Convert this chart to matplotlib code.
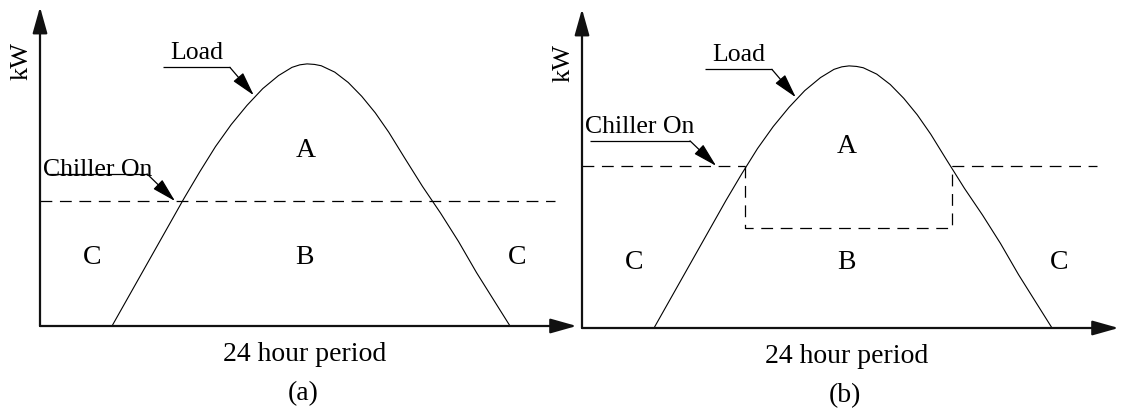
import matplotlib.pyplot as plt

plt.rcParams['font.family'] = ['Liberation Serif', 'DejaVu Serif']
plt.rcParams['lines.scale_dashes'] = False

# Load curve (hours, kW in arbitrary units, peak ~100)
load_hours = [3.2, 4.0, 4.8, 5.6, 6.4, 7.1, 7.8, 8.5, 9.2, 9.9, 10.6, 11.2, 11.55,
              11.87, 12.2, 12.5, 13.1, 13.7, 14.3, 14.9, 15.5, 16.2, 17.0, 17.8,
              18.6, 19.4, 20.2, 20.89]
load_kw = [0, 12, 24, 36, 48, 58, 67.5, 75.8, 83, 89.3, 94.2, 97.3, 98.25,
           98.6, 98.4, 97.9, 95.5, 91.6, 86.4, 80.2, 72.9, 63.3, 52.5, 42.5,
           31.8, 20.1, 9.3, 0]

# Chiller On levels
chiller_a = 47.0
chiller_b = 61.0
chiller_b_cross = [7.25, 16.45]   # where the load meets the chiller level in (b)
storage_floor_b = 37.6
dash_end = 22.9

region_labels = ['A', 'B', 'C', 'C']
panel_tags = ['(a)', '(b)']

FS_BIG = 20     # region letters, x label, panel tags
FS_LBL = 18.5   # Load / Chiller On
FS_KW = 19


def axis_arrow(ax, start, end):
    ax.annotate('', xy=end, xytext=start, annotation_clip=False,
                arrowprops=dict(arrowstyle='-|>,head_length=1.6,head_width=0.45',
                                mutation_scale=10, lw=1.6, color='#111111',
                                shrinkA=0, shrinkB=0))


def leader(ax, x0, x1, y, tip):
    ax.plot([x0, x1], [y, y], color='black', lw=0.9, solid_capstyle='butt')
    ax.annotate('', xy=tip, xytext=(x1, y), annotation_clip=False,
                arrowprops=dict(arrowstyle='-|>,head_length=1.5,head_width=0.4',
                                mutation_scale=10, lw=0.9, color='black',
                                shrinkA=0, shrinkB=0))


def base_panel(ax, tag, low_y):
    ax.set_xlim(0, 24)
    ax.set_ylim(0, 120)
    ax.axis('off')
    axis_arrow(ax, (0, 0), (0, 120))
    axis_arrow(ax, (0, 0), (23.85, 0))
    ax.plot(load_hours, load_kw, color='black', lw=0.8)
    ax.text(-0.8, 100, 'kW', rotation=90, ha='center', va='center', fontsize=FS_KW)
    ax.text(11.75, -10.5, '24 hour period', ha='center', va='center', fontsize=FS_BIG)
    ax.text(11.7, -25, tag, ha='center', va='center', fontsize=FS_BIG)
    ax.text(2.3, low_y, region_labels[2], ha='center', va='center', fontsize=FS_BIG)
    ax.text(11.75, low_y, region_labels[1], ha='center', va='center', fontsize=FS_BIG)
    ax.text(21.2, low_y, region_labels[3], ha='center', va='center', fontsize=FS_BIG)
    ax.text(5.78, 103, 'Load', ha='left', va='center', fontsize=FS_LBL)
    leader(ax, 5.45, 8.44, 97.3, (9.5, 86.8))


fig = plt.figure(figsize=(11.21, 4.14), dpi=100)
W, H = 1121, 414

# (a)
ax1 = fig.add_axes([40 / W, (H - 327) / H, 540 / W, 319 / H])
base_panel(ax1, panel_tags[0], 26)
ax1.plot([0, dash_end], [chiller_a, chiller_a], color='black', lw=0.9,
         ls=(0, (8.5, 5.5)))
ax1.text(11.8, 66.5, region_labels[0], ha='center', va='center', fontsize=FS_BIG)
ax1.text(0.13, 59, 'Chiller On', ha='left', va='center', fontsize=FS_LBL)
leader(ax1, 0.3, 4.76, 57.2, (6.0, chiller_a))

# (b)
ax2 = fig.add_axes([582 / W, (H - 329) / H, 540 / W, 319 / H])
base_panel(ax2, panel_tags[1], 25)
dash = (0, (8.5, 5.5))
ax2.plot([0, chiller_b_cross[0]], [chiller_b, chiller_b], color='black', lw=0.9, ls=dash)
ax2.plot([chiller_b_cross[1], dash_end], [chiller_b, chiller_b], color='black', lw=0.9, ls=dash)
ax2.plot([chiller_b_cross[0], chiller_b_cross[0], chiller_b_cross[1], chiller_b_cross[1]],
         [chiller_b, storage_floor_b, storage_floor_b, chiller_b],
         color='black', lw=0.9, ls=dash)
ax2.text(11.75, 68.5, region_labels[0], ha='center', va='center', fontsize=FS_BIG)
ax2.text(0.13, 76, 'Chiller On', ha='left', va='center', fontsize=FS_LBL)
leader(ax2, 0.35, 4.8, 70.4, (5.96, chiller_b))

fig.savefig('out.png', dpi=100, facecolor='white')
